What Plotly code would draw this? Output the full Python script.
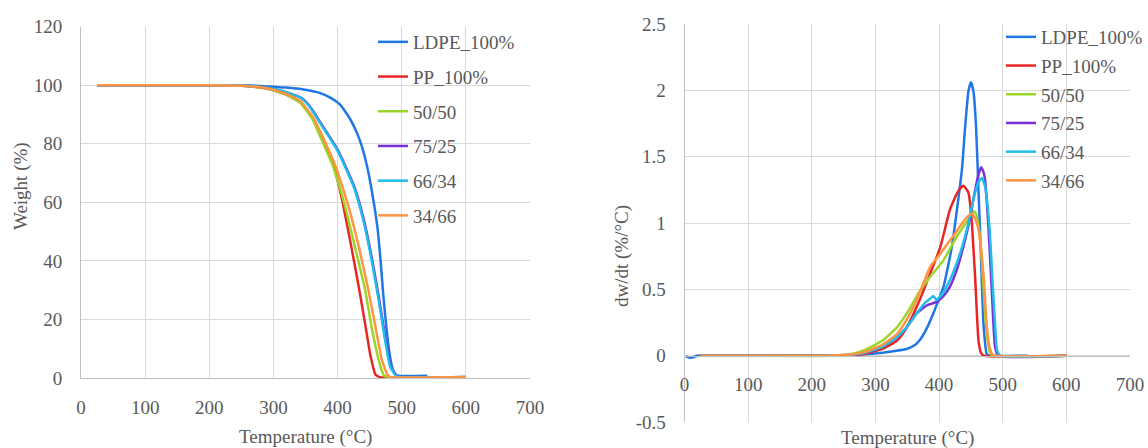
import plotly.graph_objects as go

# ---------------- data ----------------
series_names = ["LDPE_100%", "PP_100%", "50/50", "75/25", "66/34", "34/66"]
series_colors = ["#1F77E5", "#E82525", "#9AD62A", "#7A2FD9", "#1FBDE8", "#FF9442"]

# TGA: weight (%) vs temperature (°C)
ldpe_tga_T = [25, 200, 260, 290, 320, 345, 373, 390, 404, 420, 431, 438, 446, 454, 462, 467, 471, 476, 481, 486, 490, 495, 540]
ldpe_tga_W = [100, 100, 99.9, 99.6, 99.2, 98.6, 97.3, 95.6, 93.4, 88.3, 83.3, 79.0, 72.3, 63.1, 51.7, 40.3, 29.0, 17.5, 8.4, 3.0, 1.3, 0.8, 0.8]

pp_tga_T = [25, 200, 250, 280, 300, 320, 331, 342, 352, 362, 373, 384, 394, 400, 407, 420, 433, 443, 451, 459, 466, 600]
pp_tga_W = [100, 100, 99.8, 99.2, 98.3, 96.8, 95.6, 94.3, 91.6, 88.5, 83.0, 78.0, 72.5, 67.5, 61.0, 46.5, 31.2, 18.5, 8.0, 1.2, 0.3, 0.2]

b5050_tga_T = [25, 200, 250, 280, 300, 320, 331, 342, 352, 362, 373, 382, 391, 400, 409, 418, 427, 443, 453, 464, 472, 480, 600]
b5050_tga_W = [100, 100, 99.8, 99.2, 98.3, 96.8, 95.5, 94.0, 91.2, 88.0, 82.5, 78.0, 73.4, 67.5, 60.9, 53.0, 44.9, 30.1, 17.5, 6.2, 1.0, 0.3, 0.2]

b7525_tga_T = [25, 200, 250, 280, 300, 320, 332, 343, 354, 364, 374, 387, 400, 413, 426, 441, 454, 465, 475, 483, 491, 496, 600]
b7525_tga_W = [100, 100, 99.9, 99.4, 98.7, 97.6, 96.7, 95.8, 93.6, 90.5, 87.0, 82.6, 78.0, 72.0, 65.4, 54.0, 40.3, 26.7, 13.0, 3.9, 1.0, 0.4, 0.3]

b6634_tga_T = [25, 200, 250, 280, 300, 320, 331, 342, 353, 363, 373, 386, 399, 412, 425, 440, 453, 464, 474, 482, 490, 495, 598]
b6634_tga_W = [100, 100, 99.9, 99.4, 98.7, 97.6, 96.7, 95.8, 93.6, 90.5, 87.0, 82.6, 78.0, 72.0, 65.4, 54.0, 40.3, 26.7, 13.0, 3.9, 1.0, 0.4, 0.3]

b3466_tga_T = [25, 200, 250, 280, 300, 320, 331, 342, 352, 362, 373, 386, 399, 408, 417, 433, 448, 459, 469, 478, 482, 600]
b3466_tga_W = [100, 100, 99.8, 99.3, 98.5, 97.0, 95.9, 94.6, 91.9, 89.0, 84.2, 78.0, 71.1, 65.0, 58.6, 44.9, 30.1, 17.5, 6.2, 1.0, 0.4, 0.3]

# DTG: dw/dt (%/°C) vs temperature (°C)
ldpe_dtg_T = [2, 8, 14, 20, 240, 280, 307, 330, 349, 362, 370, 380, 391, 400, 407, 420, 428, 436, 441, 446, 450, 454, 458, 462, 466, 470, 475, 480, 540]
ldpe_dtg_V = [-0.005, -0.015, -0.012, 0, 0, 0.01, 0.02, 0.035, 0.05, 0.08, 0.12, 0.2, 0.32, 0.43, 0.52, 0.82, 1.10, 1.41, 1.73, 1.99, 2.06, 1.99, 1.73, 1.23, 0.72, 0.22, 0.01, 0, 0]

pp_dtg_T = [25, 230, 260, 281, 310, 334, 350, 360, 373, 386, 402, 417, 430, 438, 446, 451, 456.6, 462, 466, 470, 600]
pp_dtg_V = [0, 0, 0.005, 0.013, 0.05, 0.114, 0.22, 0.317, 0.46, 0.62, 0.82, 1.10, 1.24, 1.28, 1.23, 1.03, 0.59, 0.11, 0.02, 0, 0]

b5050_dtg_T = [25, 230, 260, 281, 310, 334, 352, 370, 386, 407, 428, 449, 454, 458, 462, 467, 472, 476, 480, 485, 600]
b5050_dtg_V = [0, 0, 0.01, 0.04, 0.11, 0.215, 0.34, 0.49, 0.595, 0.72, 0.90, 1.05, 1.09, 1.07, 0.975, 0.72, 0.34, 0.12, 0.025, 0, 0]

b7525_dtg_T = [25, 230, 260, 281, 310, 334, 350, 365, 381, 396, 407, 417, 428, 438, 446, 454, 461, 466, 470, 472, 477.5, 483, 488, 493, 600]
b7525_dtg_V = [0, 0, 0.006, 0.02, 0.065, 0.14, 0.22, 0.32, 0.38, 0.405, 0.45, 0.52, 0.65, 0.82, 0.98, 1.18, 1.35, 1.42, 1.38, 1.33, 0.975, 0.47, 0.063, 0, 0]

b6634_dtg_T = [25, 230, 260, 281, 310, 334, 350, 365, 378, 386, 391, 396, 407, 417, 428, 438, 446, 454, 461, 467, 472, 479, 485, 489, 491, 496, 598]
b6634_dtg_V = [0, 0, 0.006, 0.02, 0.065, 0.14, 0.22, 0.32, 0.40, 0.43, 0.45, 0.42, 0.48, 0.57, 0.70, 0.85, 1.0, 1.18, 1.30, 1.34, 1.28, 0.975, 0.47, 0.15, 0.04, 0, 0]

b3466_dtg_T = [25, 230, 260, 281, 310, 334, 350, 365, 386, 402, 422, 443, 451, 456, 462, 470, 475, 479, 483, 488, 600]
b3466_dtg_V = [0, 0, 0.008, 0.025, 0.08, 0.165, 0.28, 0.42, 0.67, 0.77, 0.90, 1.04, 1.07, 1.04, 0.95, 0.595, 0.215, 0.07, 0.013, 0, 0]

x_ticks = [0, 100, 200, 300, 400, 500, 600, 700]
y1_ticks = [0, 20, 40, 60, 80, 100, 120]
y2_ticks = [-0.5, 0, 0.5, 1, 1.5, 2, 2.5]
y2_labels = ["-0.5", "0", "0.5", "1", "1.5", "2", "2.5"]

tga_T = [ldpe_tga_T, pp_tga_T, b5050_tga_T, b7525_tga_T, b6634_tga_T, b3466_tga_T]
tga_W = [ldpe_tga_W, pp_tga_W, b5050_tga_W, b7525_tga_W, b6634_tga_W, b3466_tga_W]
dtg_T = [ldpe_dtg_T, pp_dtg_T, b5050_dtg_T, b7525_dtg_T, b6634_dtg_T, b3466_dtg_T]
dtg_V = [ldpe_dtg_V, pp_dtg_V, b5050_dtg_V, b7525_dtg_V, b6634_dtg_V, b3466_dtg_V]

# ---------------- figure ----------------
W, H = 1148, 448
FONT = "Liberation Serif"
TXT = "#595959"
GRID = "#D9D9D9"
AXL = "#BFBFBF"

fig = go.Figure()
for i, name in enumerate(series_names):
    fig.add_trace(go.Scatter(
        x=tga_T[i], y=tga_W[i], mode="lines", name=name,
        line=dict(color=series_colors[i], width=2.5, shape="spline", smoothing=0.5),
        xaxis="x", yaxis="y", legend="legend", legendgroup="a" + str(i)))
for i, name in enumerate(series_names):
    fig.add_trace(go.Scatter(
        x=dtg_T[i], y=dtg_V[i], mode="lines", name=name,
        line=dict(color=series_colors[i], width=2.5, shape="spline", smoothing=0.5),
        xaxis="x2", yaxis="y2", legend="legend2", legendgroup="b" + str(i)))

tick_font = dict(family=FONT, size=19, color=TXT)
common_ax = dict(showgrid=True, gridcolor=GRID, gridwidth=1, zeroline=False,
                 showline=True, linecolor=AXL, linewidth=1, ticks="",
                 tickfont=tick_font)
title_font = dict(family=FONT, size=19, color=TXT)

fig.update_layout(
    width=W, height=H,
    margin=dict(l=0, r=0, t=0, b=0, autoexpand=False),
    paper_bgcolor="white", plot_bgcolor="white",
    font=dict(family=FONT, size=19, color=TXT),
    xaxis=dict(domain=[81 / W, 530 / W], anchor="y", range=[0, 700],
               tickmode="array", tickvals=x_ticks, ticklabelstandoff=12, **common_ax),
    yaxis=dict(domain=[(H - 378) / H, (H - 26.7) / H], anchor="x", range=[0, 120],
               tickmode="array", tickvals=y1_ticks, ticklabelstandoff=14, **common_ax),
    xaxis2=dict(domain=[684.6 / W, 1130 / W], anchor="free", position=(H - 355.7) / H,
                range=[0, 700], tickmode="array", tickvals=x_ticks, ticklabelstandoff=11,
                **common_ax),
    yaxis2=dict(domain=[(H - 422) / H, (H - 24) / H], anchor="x2", range=[-0.5, 2.5],
                tickmode="array", tickvals=y2_ticks, ticktext=y2_labels,
                ticklabelstandoff=14, **common_ax),
    legend=dict(x=373 / W, xanchor="left", y=(H - 23) / H, yanchor="top",
                bgcolor="rgba(0,0,0,0)", borderwidth=0, traceorder="grouped",
                tracegroupgap=7, font=title_font),
    legend2=dict(x=1001 / W, xanchor="left", y=(H - 18) / H, yanchor="top",
                 bgcolor="rgba(0,0,0,0)", borderwidth=0, traceorder="grouped",
                 tracegroupgap=1, font=title_font),
    annotations=[
        dict(text="Temperature (°C)", x=305 / W, y=(H - 437) / H, xref="paper", yref="paper",
             xanchor="center", yanchor="middle", showarrow=False, font=title_font),
        dict(text="Temperature (°C)", x=907 / W, y=(H - 438) / H, xref="paper", yref="paper",
             xanchor="center", yanchor="middle", showarrow=False, font=title_font),
        dict(text="Weight (%)", x=21 / W, y=(H - 186) / H, xref="paper", yref="paper",
             xanchor="center", yanchor="middle", textangle=-90, showarrow=False, font=title_font),
        dict(text="dw/dt (%/°C)", x=622 / W, y=(H - 256) / H, xref="paper", yref="paper",
             xanchor="center", yanchor="middle", textangle=-90, showarrow=False, font=title_font),
    ],
)

fig.write_html("out.html", config={"displayModeBar": False},
               post_script="document.body.style.margin='0px';")
